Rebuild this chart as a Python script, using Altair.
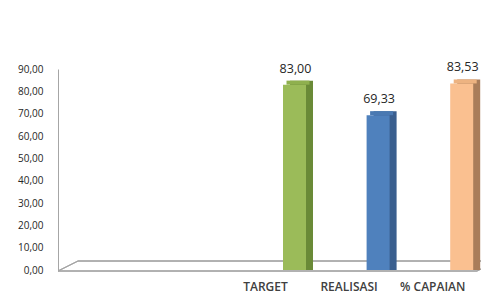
import altair as alt
import pandas as pd

# ---- data ----
categories = ["TARGET", "REALISASI", "% CAPAIAN"]
values = [83.00, 69.33, 83.53]
front_colors = ["#9BBB59", "#4F81BD", "#FAC090"]
side_colors = ["#6A8A37", "#3A5F8F", "#A97D5A"]
top_colors = ["#8FB04E", "#4A79B2", "#EDB381"]
y_ticks = [0, 10, 20, 30, 40, 50, 60, 70, 80, 90]

df = pd.DataFrame({
    "cat": categories,
    "val": values,
    "front": front_colors,
    "side": side_colors,
    "top": top_colors,
})
df["label"] = df["val"].map(lambda v: f"{v:.2f}".replace(".", ","))

W, H = 423, 201
FONT = "Open Sans"

xscale = alt.Scale(domain=categories, range=[194.7, 445.5], paddingInner=0, paddingOuter=0)
yscale = alt.Scale(domain=[0, 90], nice=False)

x_enc = alt.X("cat:N", scale=xscale, sort=categories, title=None,
              axis=alt.Axis(domain=False, ticks=False, labelAngle=0,
                            labelOffset=-29, labelPadding=11, labelFont=FONT,
                            labelFontSize=12, labelFontWeight=600,
                            labelColor="#404040"))
y_enc = alt.Y("val:Q", scale=yscale, title=None,
              axis=alt.Axis(values=y_ticks, grid=False, ticks=False,
                            domainColor="#A6A6A6", domainWidth=1,
                            labelExpr="replace(format(datum.value, '.2f'), '.', ',')",
                            labelFont=FONT, labelFontSize=10, labelColor="#262626",
                            labelPadding=15))

base = alt.Chart(df)

# floor (3D base) drawn as rules in pixel space
floor_front = base.mark_rule(color="#A6A6A6", strokeWidth=1).encode(
    x=alt.value(0), x2=alt.value(419), y=alt.value(202), y2=alt.value(202))
floor_back = base.mark_rule(color="#A6A6A6", strokeWidth=1).encode(
    x=alt.value(20), x2=alt.value(440), y=alt.value(192), y2=alt.value(192))
floor_left = base.mark_rule(color="#A6A6A6", strokeWidth=1).encode(
    x=alt.value(0), x2=alt.value(20), y=alt.value(202), y2=alt.value(192))
floor_right = base.mark_rule(color="#A6A6A6", strokeWidth=1).encode(
    x=alt.value(419), x2=alt.value(439), y=alt.value(202), y2=alt.value(192))

side = base.mark_bar(width=23, xOffset=7, yOffset=-4).encode(
    x=x_enc, y=y_enc, y2=alt.datum(0),
    color=alt.Color("side:N", scale=None),
)

front = base.mark_bar(width=23).encode(
    x=x_enc, y=y_enc, y2=alt.datum(0),
    color=alt.Color("front:N", scale=None),
)

top = base.mark_tick(size=23, thickness=4, xOffset=3.5, yOffset=-2, opacity=1).encode(
    x=x_enc, y=y_enc,
    color=alt.Color("top:N", scale=None),
)

labels = base.mark_text(font=FONT, fontSize=12.5, color="#262626",
                        baseline="bottom", dy=-9, xOffset=1).encode(
    x=x_enc, y=y_enc,
    text="label:N",
)

chart = alt.layer(
    floor_back, floor_left, floor_right, floor_front,
    side, front, top, labels
).properties(
    width=W, height=H,
    autosize=alt.AutoSizeParams(type="none"),
    padding={"left": 50, "top": 61, "right": 0, "bottom": 24},
).configure_view(stroke=None)

chart.save("out.html", embed_options={"renderer": "svg", "actions": False})
